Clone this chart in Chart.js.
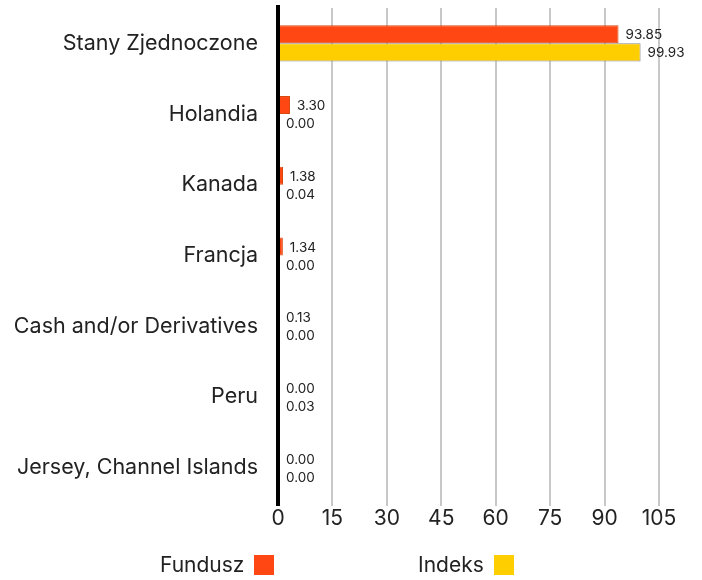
<!DOCTYPE html>
<html>
<head>
<meta charset="utf-8">
<script src="https://cdn.jsdelivr.net/npm/chart.js@4/dist/chart.umd.min.js"></script>
<style>
	html, body { margin: 0; padding: 0; background: #fff; }
	#wrap { position: relative; width: 702px; height: 580px; }
	#legend { position: absolute; left: 0; top: 550px; width: 702px; height: 30px;
		font-family: Inter, sans-serif; font-size: 21px; color: #222; }
	.item { position: absolute; top: 0; line-height: 30px; white-space: nowrap; }
	.box { display: inline-block; width: 20px; height: 20px; vertical-align: -3px; margin-left: 10px; }
</style>
</head>
<body>
<div id="wrap">
	<canvas id="chart" width="702" height="580"></canvas>
	<div id="legend"></div>
</div>
<script>
// values
var categories = [ 'Stany Zjednoczone', 'Holandia', 'Kanada', 'Francja',
		'Cash and/or Derivatives', 'Peru', 'Jersey, Channel Islands' ];
var fundValues = [ 93.85, 3.30, 1.38, 1.34, 0.13, 0.00, 0.00 ];
var indexValues = [ 99.93, 0.00, 0.04, 0.00, 0.00, 0.03, 0.00 ];
var seriesNames = [ 'Fundusz', 'Indeks' ];
var tickValues = [ 0, 15, 30, 45, 60, 75, 90, 105 ];

(function() {
	'use strict';
	var colors = [ '#FF4713', '#FFCE00' ];
	var borders = [ '#D9480F', '#8C8C8C' ];
	var fontFamily = 'Inter, sans-serif';

	// small labels at bar ends, then the black zero line on top of the bars
	var valueLabels = {
		id : 'valueLabels',
		afterDatasetsDraw : function(chart) {
			var ctx = chart.ctx;
			var area = chart.chartArea;
			var zero = chart.scales.x.getPixelForValue(0);
			ctx.save();
			ctx.font = '13.5px ' + fontFamily;
			ctx.fillStyle = '#222';
			ctx.textBaseline = 'middle';
			ctx.textAlign = 'left';
			chart.data.datasets.forEach(function(ds, i) {
				var meta = chart.getDatasetMeta(i);
				meta.data.forEach(function(bar, j) {
					var x = Math.max(bar.x + 7, zero + 8);
					ctx.fillText(ds.data[j].toFixed(2), x, bar.y + 1);
				});
			});
			ctx.strokeStyle = '#000';
			ctx.lineWidth = 4;
			ctx.beginPath();
			ctx.moveTo(zero, area.top - 3);
			ctx.lineTo(zero, area.bottom + 3);
			ctx.stroke();
			ctx.restore();
		}
	};

	new Chart(document.getElementById('chart'), {
		type : 'bar',
		data : {
			labels : categories,
			datasets : [ {
				label : seriesNames[0],
				data : fundValues,
				backgroundColor : colors[0],
				borderColor : borders[0],
				borderWidth : 1
			}, {
				label : seriesNames[1],
				data : indexValues,
				backgroundColor : colors[1],
				borderColor : borders[1],
				borderWidth : 1
			} ]
		},
		options : {
			indexAxis : 'y',
			responsive : false,
			animation : false,
			layout : {
				padding : { top : 8, right : 43, bottom : 50, left : 0 }
			},
			datasets : {
				bar : { categoryPercentage : 0.51, barPercentage : 1 }
			},
			plugins : {
				legend : { display : false },
				tooltip : { enabled : false }
			},
			scales : {
				x : {
					min : 0,
					max : 105,
					afterBuildTicks : function(scale) {
						scale.ticks = tickValues.map(function(v) { return { value : v }; });
					},
					afterFit : function(scale) {
						scale.height = 27;
						scale.paddingLeft = 0;
						scale.paddingRight = 0;
					},
					border : { display : false },
					grid : {
						color : function(c) { return c.tick && c.tick.value === 0 ? 'rgba(0,0,0,0)' : '#C8C8C8'; },
						lineWidth : 2,
						tickLength : 3
					},
					ticks : {
						color : '#222',
						padding : 0,
						font : { family : fontFamily, size : 21 }
					}
				},
				y : {
					afterFit : function(scale) {
						scale.width = 278;
						scale.paddingTop = 0;
						scale.paddingBottom = 0;
					},
					border : { display : false },
					grid : { display : false },
					ticks : {
						color : '#222',
						padding : 12,
						font : { family : fontFamily, size : 21.5 }
					}
				}
			}
		},
		plugins : [ valueLabels ]
	});

	// legend: text then coloured square
	var legendPos = [ 160, 418 ];
	var legend = document.getElementById('legend');
	seriesNames.forEach(function(name, i) {
		var item = document.createElement('div');
		item.className = 'item';
		item.style.left = legendPos[i] + 'px';
		item.innerHTML = name + '<span class="box" style="background:' + colors[i] + '"></span>';
		legend.appendChild(item);
	});
})();
</script>
</body>
</html>
